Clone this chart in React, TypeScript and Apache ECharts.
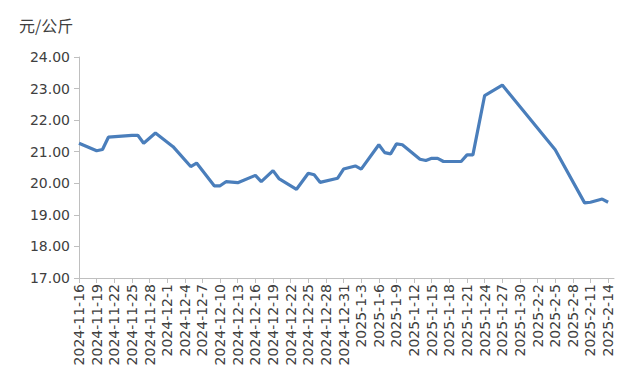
import React, { useEffect, useRef } from "react";
import * as echarts from "echarts";

// Daily categories 2024-11-16 .. 2025-02-15
const startDate = [2024, 10, 16];
const dayCount = 92;

// Observed points: [day offset from 2024-11-16, price 元/公斤]
const pointDays = [0, 3, 4, 5, 9, 10, 11, 13, 16, 19, 20, 23, 24, 25, 27, 30, 31, 33, 34, 37, 39, 40, 41, 44, 45, 47, 48, 51, 52, 53, 54, 55, 58, 59, 60, 61, 62, 65, 66, 67, 69, 72, 81, 86, 87, 89, 90];
const pointValues = [21.27, 21.03, 21.07, 21.46, 21.52, 21.52, 21.27, 21.59, 21.16, 20.53, 20.64, 19.92, 19.92, 20.05, 20.02, 20.25, 20.05, 20.4, 20.15, 19.81, 20.32, 20.27, 20.03, 20.16, 20.45, 20.55, 20.45, 21.22, 20.97, 20.93, 21.25, 21.22, 20.76, 20.72, 20.79, 20.79, 20.69, 20.69, 20.9, 20.9, 22.78, 23.11, 21.06, 19.38, 19.4, 19.5, 19.4];

const unitLabel = "元/公斤";

function buildCategories(): string[] {
  const out: string[] = [];
  for (let i = 0; i < dayCount; i++) {
    const d = new Date(startDate[0], startDate[1], startDate[2] + i);
    out.push(`${d.getFullYear()}-${d.getMonth() + 1}-${d.getDate()}`);
  }
  return out;
}

export default function App() {
  const ref = useRef<HTMLDivElement>(null);
  useEffect(() => {
    if (!ref.current) return;
    const chart = echarts.init(ref.current, undefined, { renderer: "svg" });
    const categories = buildCategories();
    const data: (number | null)[] = categories.map(() => null);
    pointDays.forEach((d, i) => {
      data[d] = pointValues[i];
    });
    const font = "DejaVu Sans, sans-serif";
    chart.setOption({
      animation: false,
      backgroundColor: "#ffffff",
      title: {
        text: unitLabel,
        left: 14,
        top: 12,
        textStyle: { fontSize: 16, fontWeight: "normal", color: "#404040", fontFamily: "Noto Sans CJK SC, sans-serif" },
      },
      grid: { left: 79, right: 22, top: 57, bottom: 98, containLabel: false },
      xAxis: {
        type: "category",
        data: categories,
        boundaryGap: false,
        axisLine: { lineStyle: { color: "#bfbfbf", width: 1 } },
        axisTick: { show: true, interval: 2, length: 5, lineStyle: { color: "#bfbfbf" } },
        axisLabel: {
          interval: 2,
          rotate: 90,
          fontSize: 14,
          color: "#404040",
          fontFamily: font,
          margin: 6,
        },
        splitLine: { show: false },
      },
      yAxis: {
        type: "value",
        min: 17,
        max: 24,
        interval: 1,
        axisLine: { show: true, lineStyle: { color: "#bfbfbf", width: 1 } },
        axisTick: { show: true, length: 5, lineStyle: { color: "#bfbfbf" } },
        axisLabel: {
          formatter: (v: number) => v.toFixed(2),
          fontSize: 14,
          color: "#404040",
          fontFamily: font,
          margin: 9,
        },
        splitLine: { show: false },
      },
      series: [
        {
          type: "line",
          data,
          connectNulls: true,
          showSymbol: false,
          symbol: "none",
          lineStyle: { color: "#4a7ebb", width: 3.2 },
        },
      ],
    });
    return () => chart.dispose();
  }, []);
  return (
    <div
      ref={ref}
      style={{ position: "fixed", left: 0, top: 0, width: 636, height: 376 }}
    />
  );
}
